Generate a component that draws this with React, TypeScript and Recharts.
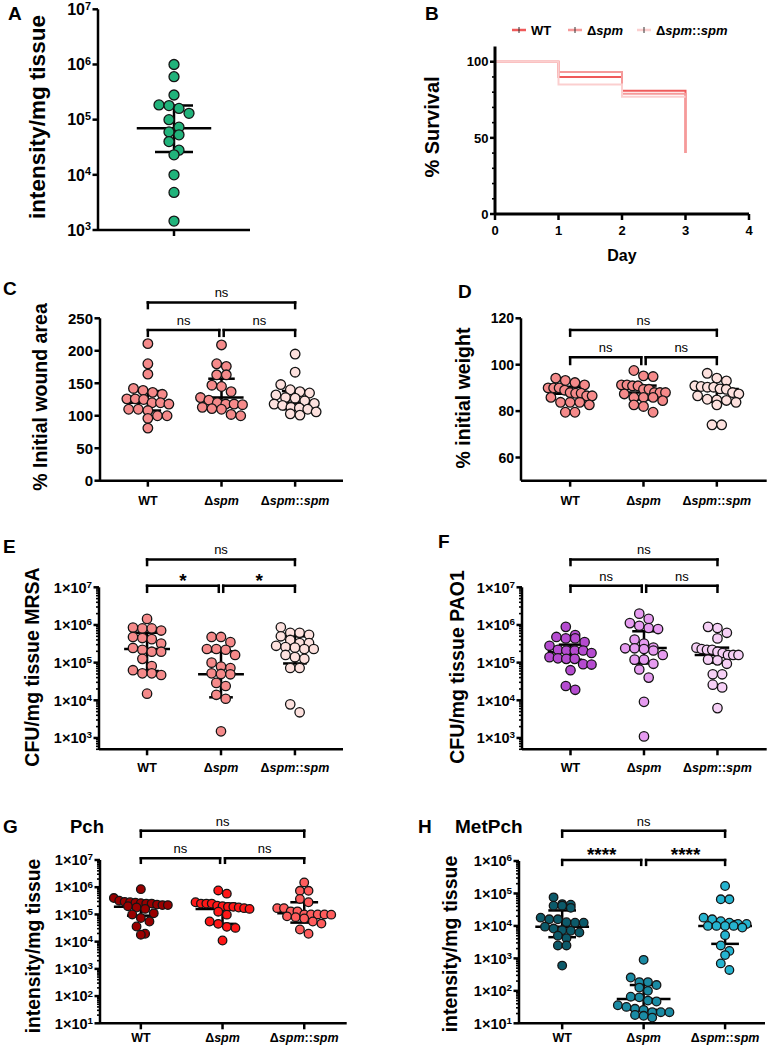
import React from "react";
import { ScatterChart, Scatter, XAxis, YAxis, ReferenceLine, LineChart, Line } from "recharts";

const FONT = "Arial, 'Liberation Sans', Helvetica, sans-serif";

// categories shared by panels C-H
const CATS = [1, 2, 3];
const CAT_LABELS = ["WT", "Δspm", "Δspm::spm"];

// A: intensity/mg tissue
const A_VALUES = [1e6, 6e5, 2.8e5, 1.85e5, 1.8e5, 1.6e5, 1.3e5, 1e5, 7.3e4, 6e4, 5.3e4, 4e4, 2.8e4, 2.3e4, 1e4, 4.8e3, 1.45e3];
const A_MED = [7e4];
const A_Q1 = [2.6e4];
const A_Q3 = [1.8e5];

// B: survival
const B_DAYS = [0, 1, 2, 3];
const B_WT = [100, 90, 81, 40];
const B_DSPM = [100, 93.3, 79, 40];
const B_COMP = [100, 85, 77, 77];

// C: % initial wound area
const C_WT = [211, 180, 164, 142, 139, 136, 133, 126, 126, 125, 120, 120, 118, 110, 110, 108, 100, 100, 96, 81];
const C_DSPM = [209, 180, 176, 163, 163, 147, 145, 137, 128, 124, 120, 118, 118, 117, 113, 111, 110, 102, 100];
const C_COMP = [195, 167, 148, 140, 137, 135, 132, 128, 127, 123, 119, 118, 116, 113, 112, 110, 106, 103, 101];
const C_MED = [120, 128, 120];
const C_Q1 = [108, 114, 110];
const C_Q3 = [138, 157, 138];
const C_SIG = ["ns", "ns", "ns"];

// D: % initial weight
const D_WT = [94.2, 93.2, 92.3, 91.3, 90, 90, 90, 89, 88, 87.7, 87.7, 86.6, 86.6, 85.9, 83.8, 83.8, 83.8, 82.7, 79.5, 79.5];
const D_DSPM = [97.5, 95.2, 94.9, 91.3, 91.3, 90.9, 90.9, 89.4, 89.4, 88, 88, 88, 87.4, 85.9, 85.9, 85.9, 84.5, 82.7, 82, 79.5];
const D_COMP = [96.3, 94.2, 93, 90.9, 90.6, 90.3, 90.3, 89.6, 89.4, 88, 87.4, 86.6, 85.1, 84.8, 84.6, 83.8, 82.7, 74.1, 74.1];
const D_MED = [87.5, 88, 89.5];
const D_Q1 = [83.5, 85, 84];
const D_Q3 = [90.5, 91, 91];
const D_SIG = ["ns", "ns", "ns"];

// E: CFU/mg tissue MRSA
const E_WT = [1.45e6, 8.5e5, 8.1e5, 8.1e5, 7.1e5, 4.8e5, 4.5e5, 4.2e5, 3.2e5, 2.45e5, 2.2e5, 1.95e5, 1.95e5, 1.26e5, 8.1e4, 6.3e4, 5.2e4, 5.2e4, 4.7e4, 1.5e4];
const E_DSPM = [4.8e5, 4.8e5, 3.5e5, 2.3e5, 2.3e5, 2.2e5, 1.6e5, 1e5, 7.9e4, 7.2e4, 5.2e4, 5e4, 4.9e4, 2.9e4, 2.4e4, 1.4e4, 1.1e4, 1.5e3];
const E_COMP = [8.7e5, 6.2e5, 6.2e5, 5.5e5, 5e5, 4e5, 3.3e5, 3.3e5, 2.8e5, 2.6e5, 2.5e5, 2.3e5, 2.3e5, 1.6e5, 1.4e5, 1.26e5, 7.2e4, 7.2e4, 7.8e3, 4.8e3];
const E_MED = [2.3e5, 4.9e4, 2.6e5];
const E_Q1 = [6e4, 1.2e4, 9.5e4];
const E_Q3 = [6.2e5, 2e5, 5e5];
const E_SIG = ["*", "*", "ns"];

// F: CFU/mg tissue PAO1
const F_WT = [8.9e5, 5.4e5, 4.8e5, 4.4e5, 4.4e5, 3.5e5, 2.8e5, 2.2e5, 2.1e5, 2.1e5, 2.1e5, 1.8e5, 1.4e5, 1.3e5, 1.26e5, 1.26e5, 9.1e4, 8.9e4, 6.3e4, 2.4e4, 1.9e4];
const F_DSPM = [2e6, 1.45e6, 1.12e6, 9.5e5, 8.3e5, 7.8e5, 4.1e5, 3.2e5, 2.5e5, 2.4e5, 2.4e5, 2.3e5, 2.1e5, 1.6e5, 1.2e5, 1.2e5, 9.3e4, 6.6e4, 4e4, 9.1e3, 1.1e3];
const F_COMP = [8.9e5, 8.3e5, 6.2e5, 4.4e5, 2.5e5, 2.3e5, 2.2e5, 2.2e5, 1.95e5, 1.8e5, 1.6e5, 1.6e5, 1.6e5, 1.2e5, 1.15e5, 9.3e4, 4.9e4, 4.9e4, 2.6e4, 2.2e4, 6.2e3];
const F_MED = [1.9e5, 2.45e5, 1.6e5];
const F_Q1 = [1.2e5, 9.5e4, 1e5];
const F_Q3 = [3e5, 6.8e5, 2.5e5];
const F_SIG = ["ns", "ns", "ns"];

// G: Pch
const G_WT = [8.5e5, 4e5, 3.2e5, 2.9e5, 2.8e5, 2.7e5, 2.6e5, 2.5e5, 2.5e5, 2.3e5, 2.2e5, 2.2e5, 2e5, 1.8e5, 1.6e5, 1.1e5, 1e5, 7.4e4, 5.5e4, 3.6e4, 1.95e4, 1.8e4];
const G_DSPM = [7.6e5, 5.8e5, 2.8e5, 2.5e5, 2.5e5, 2.5e5, 2.1e5, 2e5, 1.9e5, 1.9e5, 1.8e5, 1.7e5, 1.6e5, 1.26e5, 9.8e4, 5.5e4, 4.5e4, 3.5e4, 3.2e4, 1.1e4];
const G_COMP = [1.5e6, 7.4e5, 7.4e5, 3.7e5, 2.8e5, 1.7e5, 1.7e5, 1.3e5, 1.3e5, 1e5, 1e5, 1e5, 1e5, 9.8e4, 8.5e4, 7.9e4, 7.1e4, 5.5e4, 4.6e4, 2.8e4, 1.95e4];
const G_MED = [1.9e5, 1.6e5, 1.1e5];
const G_Q1 = [9e4, 4.5e4, 5e4];
const G_Q3 = [2.7e5, 2.5e5, 2.8e5];
const G_SIG = ["ns", "ns", "ns"];

// H: MetPch
const H_WT = [7.6e4, 4.7e4, 4.5e4, 4.2e4, 4.2e4, 3.6e4, 1.8e4, 1.6e4, 1.6e4, 1.3e4, 1.26e4, 1.26e4, 9.5e3, 8.3e3, 7.4e3, 7.1e3, 6.3e3, 5e3, 4.2e3, 2.5e3, 2.5e3, 600];
const H_DSPM = [900, 257, 186, 186, 151, 126, 100, 66, 63, 50, 47, 36, 32, 28, 26, 22, 22, 22, 18, 17, 15];
const H_COMP = [1.7e5, 6.6e4, 6.6e4, 1.8e4, 1.6e4, 1.4e4, 1.26e4, 1.15e4, 1.15e4, 1e4, 1e4, 1e4, 1e4, 8.9e3, 5.2e3, 2.5e3, 1.7e3, 1.26e3, 700, 440];
const H_MED = [9.5e3, 56, 1e4];
const H_Q1 = [4.5e3, 26, 2.8e3];
const H_Q3 = [3e4, 151, 1.4e4];
const H_SIG = ["****", "****", "ns"];

// axis ticks
const A_MAJOR = [1e3, 1e4, 1e5, 1e6, 1e7];
const EF_MAJOR = [1e3, 1e4, 1e5, 1e6, 1e7];
const G_MAJOR = [1e1, 1e2, 1e3, 1e4, 1e5, 1e6, 1e7];
const H_MAJOR = [1e1, 1e2, 1e3, 1e4, 1e5, 1e6];
const C_TICKS = [0, 50, 100, 150, 200, 250];
const D_TICKS = [60, 80, 100, 120];
const B_YTICKS = [0, 10, 20, 30, 40, 50, 60, 70, 80, 90, 100];
const B_YMAJOR = [0, 50, 100];
const B_XTICKS = [0, 1, 2, 3, 4];

function withMinors(majors: number[], low: number) {
  const out: number[] = [];
  const top = majors[majors.length - 1];
  for (let d = majors[0] / 10; d < top; d *= 10) {
    for (let k = 1; k <= 9; k++) {
      const v = Number((d * k).toPrecision(6));
      if (v >= low - 1e-9 && v <= top) out.push(v);
    }
  }
  majors.forEach((m) => { if (out.indexOf(m) < 0) out.push(m); });
  return out.sort((a, b) => a - b);
}

// row layout of a column scatter: points with close values share a row and sit side by side
function rowLayout(values: number[], cat: number, pxu: number, toPy: (v: number) => number, d: number, maxHalf: number) {
  const order = values.map((v) => ({ v, py: toPy(v) })).sort((a, b) => b.py - a.py);
  const rows: { v: number; py: number }[][] = [];
  for (const p of order) {
    const row = rows[rows.length - 1];
    if (row && row[0].py - p.py < d * 0.9) row.push(p);
    else rows.push([p]);
  }
  const out: { x: number; y: number }[] = [];
  for (const row of rows) {
    const n = row.length;
    const step = n > 1 ? Math.min(d, (2 * maxHalf) / (n - 1)) : 0;
    row.forEach((p, k) => {
      const off = (k - (n - 1) / 2) * step;
      out.push({ x: cat + off / pxu, y: p.v });
    });
  }
  return out;
}

function catLabel(s: string) {
  return s
    .split(/(spm)/)
    .filter(Boolean)
    .map((part, k) =>
      part === "spm" ? (
        <tspan key={k} fontStyle="italic">spm</tspan>
      ) : (
        <tspan key={k}>{part}</tspan>
      )
    );
}

function yTick(majors: number[], fmt: string, fs: number, majorLen: number, minorLen: number) {
  return (props: any) => {
    const { x, y, payload } = props;
    const v = payload.value;
    const isMajor = majors.some((m) => Math.abs(m - v) <= m * 1e-6 + 1e-9);
    const len = isMajor ? majorLen : minorLen;
    const exp = Math.round(Math.log10(v));
    return (
      <g>
        <line x1={x} x2={x - len} y1={y} y2={y} stroke="#000" strokeWidth={isMajor ? 2.5 : 1.6} />
        {isMajor && (
          <text x={x - majorLen - 1.5} y={y} dy="0.36em" textAnchor="end" fontSize={fs} fontWeight="bold" fontFamily={FONT} fill="#000">
            {fmt === "num" ? String(v) : fmt === "sci" ? "1×10" : "10"}
            {fmt !== "num" && (
              <tspan dy={-fs * 0.33} fontSize={fs * 0.68}>{exp}</tspan>
            )}
          </text>
        )}
      </g>
    );
  };
}

function xTick(cats: number[], labels: string[] | null, fs: number, len: number, labelDy: number) {
  return (props: any) => {
    const { x, y, payload } = props;
    const i = cats.indexOf(payload.value);
    const lab = labels ? labels[i] : null;
    return (
      <g>
        <line x1={x} x2={x} y1={y} y2={y + len} stroke="#000" strokeWidth={2.5} />
        {lab != null && (
          <text x={x} y={y + labelDy} textAnchor="middle" fontSize={fs} fontWeight="bold" fontFamily={FONT} fill="#000">
            {catLabel(lab)}
          </text>
        )}
      </g>
    );
  };
}

type Group = { values: number[]; color: string; med: number; q1: number; q3: number };
type Bracket = { x1: number; x2: number; y: number; drop: number; label: string };

type Spec = {
  box: number[];
  plot: number[];
  log: boolean;
  yDomain: number[];
  yTicks: number[];
  yMajor: number[];
  yFmt: string;
  yFs: number;
  xDomain: number[];
  cats: number[];
  catLabels: string[] | null;
  labelDy: number;
  groups: Group[];
  brackets: Bracket[];
  r: number;
  spread: number;
  medHalf: number;
  capHalf: number;
};

function DotPanel(p: Spec) {
  const [bl, bt, bw, bh] = p.box;
  const [x0, y0, x1, y1] = p.plot;
  const YW = 40;
  const XH = 30;
  const margin = { left: x0 - bl - YW, top: y0 - bt, right: bl + bw - x1, bottom: bt + bh - y1 - XH };
  const t = (v: number) => (p.log ? Math.log10(v) : v);
  const pyu = (y1 - y0) / (t(p.yDomain[1]) - t(p.yDomain[0]));
  const pxu = (x1 - x0) / (p.xDomain[1] - p.xDomain[0]);
  const groups = p.groups.map((g, i) => ({
    ...g,
    cat: p.cats[i],
    pts: rowLayout(g.values, p.cats[i], pxu, (v) => t(v) * pyu, 2 * p.r, p.spread),
  }));
  const black = { stroke: "#000", strokeWidth: 2.5, ifOverflow: "visible" as const };
  return (
    <div style={{ position: "absolute", left: bl, top: bt }}>
      <ScatterChart width={bw} height={bh} margin={margin}>
        <XAxis
          type="number"
          dataKey="x"
          domain={p.xDomain}
          allowDataOverflow
          ticks={p.cats}
          interval={0}
          height={XH}
          tickSize={0}
          tickMargin={0}
          tickLine={false}
          axisLine={{ stroke: "#000", strokeWidth: 2.5 }}
          tick={xTick(p.cats, p.catLabels, 12.5, 6, p.labelDy)}
        />
        <YAxis
          type="number"
          dataKey="y"
          scale={p.log ? "log" : "linear"}
          domain={p.yDomain}
          allowDataOverflow
          ticks={p.yTicks}
          interval={0}
          width={YW}
          tickSize={0}
          tickMargin={0}
          tickLine={false}
          axisLine={{ stroke: "#000", strokeWidth: 2.5 }}
          tick={yTick(p.yMajor, p.yFmt, p.yFs, 5.5, 3)}
        />
        {groups.map((g, i) => (
          <Scatter
            key={"s" + i}
            data={g.pts}
            isAnimationActive={false}
            shape={(sp: any) => (
              <circle cx={sp.cx} cy={sp.cy} r={p.r} fill={g.color} stroke="#151515" strokeWidth={1.3} />
            )}
          />
        ))}
        {groups.map((g, i) => (
          <React.Fragment key={"m" + i}>
            <ReferenceLine segment={[{ x: g.cat - p.medHalf, y: g.med }, { x: g.cat + p.medHalf, y: g.med }]} {...black} />
            <ReferenceLine segment={[{ x: g.cat, y: g.q1 }, { x: g.cat, y: g.q3 }]} {...black} />
            <ReferenceLine segment={[{ x: g.cat - p.capHalf, y: g.q1 }, { x: g.cat + p.capHalf, y: g.q1 }]} {...black} />
            <ReferenceLine segment={[{ x: g.cat - p.capHalf, y: g.q3 }, { x: g.cat + p.capHalf, y: g.q3 }]} {...black} />
          </React.Fragment>
        ))}
        {p.brackets.map((b, i) => {
          const star = b.label.indexOf("*") >= 0;
          return (
            <React.Fragment key={"b" + i}>
              <ReferenceLine
                segment={[{ x: b.x1, y: b.y }, { x: b.x2, y: b.y }]}
                {...black}
                strokeLinecap="square"
                label={{
                  value: b.label,
                  position: "top",
                  offset: star ? -1 : 5,
                  fontSize: star ? 19 : 13,
                  fontWeight: star ? "bold" : "normal",
                  fill: "#000",
                  fontFamily: FONT,
                }}
              />
              <ReferenceLine segment={[{ x: b.x1, y: b.y }, { x: b.x1, y: b.drop }]} {...black} strokeLinecap="square" />
              <ReferenceLine segment={[{ x: b.x2, y: b.y }, { x: b.x2, y: b.drop }]} {...black} strokeLinecap="square" />
            </React.Fragment>
          );
        })}
      </ScatterChart>
    </div>
  );
}

function makeGroups(vals: number[][], colors: string[], med: number[], q1: number[], q3: number[]): Group[] {
  return vals.map((v, i) => ({ values: v, color: colors[i], med: med[i], q1: q1[i], q3: q3[i] }));
}

function makeBrackets(sig: string[], low: number, lowDrop: number, high: number, highDrop: number): Bracket[] {
  return [
    { x1: 1, x2: 1.97, y: low, drop: lowDrop, label: sig[0] },
    { x1: 2.03, x2: 3, y: low, drop: lowDrop, label: sig[1] },
    { x1: 1, x2: 3, y: high, drop: highDrop, label: sig[2] },
  ];
}

const SALMON = ["#f58a8a", "#f58a8a", "#fde1de"];
const PURPLE = ["#b54bd0", "#e69bf0", "#f6d0f6"];
const REDS = ["#990000", "#ff1717", "#ff5c5c"];
const TEALS = ["#0c5a6a", "#1a8ba4", "#25b4d0"];

const SPECS: Spec[] = [
  {
    box: [0, 0, 385, 270], plot: [98, 9.3, 250, 230], log: true, yDomain: [1e3, 1e7],
    yTicks: A_MAJOR, yMajor: A_MAJOR, yFmt: "pow", yFs: 16, xDomain: [-1, 1], cats: [0], catLabels: null, labelDy: 0,
    groups: makeGroups([A_VALUES], ["#21b37b"], A_MED, A_Q1, A_Q3), brackets: [], r: 5, spread: 28, medHalf: 0.49, capHalf: 0.25,
  },
  {
    box: [0, 270, 385, 250], plot: [100, 318.3, 343, 480.7], log: false, yDomain: [0, 250],
    yTicks: C_TICKS, yMajor: C_TICKS, yFmt: "num", yFs: 15, xDomain: [0.35, 3.65], cats: CATS, catLabels: CAT_LABELS, labelDy: 24,
    groups: makeGroups([C_WT, C_DSPM, C_COMP], SALMON, C_MED, C_Q1, C_Q3),
    brackets: makeBrackets(C_SIG, 231.8, 223, 274.5, 265.7), r: 4.8, spread: 21, medHalf: 0.3, capHalf: 0.18,
  },
  {
    box: [385, 270, 385, 250], plot: [521, 318.3, 766.7, 480.7], log: false, yDomain: [50, 120],
    yTicks: D_TICKS, yMajor: D_TICKS, yFmt: "num", yFs: 14, xDomain: [0.33, 3.68], cats: CATS, catLabels: CAT_LABELS, labelDy: 24,
    groups: makeGroups([D_WT, D_DSPM, D_COMP], SALMON, D_MED, D_Q1, D_Q3),
    brackets: makeBrackets(D_SIG, 103.2, 100.3, 115, 112.5), r: 4.8, spread: 22, medHalf: 0.3, capHalf: 0.18,
  },
  {
    box: [0, 520, 385, 260], plot: [99, 587.3, 343, 749.3], log: true, yDomain: [500, 1e7],
    yTicks: withMinors(EF_MAJOR, 500), yMajor: EF_MAJOR, yFmt: "sci", yFs: 14.5, xDomain: [0.35, 3.65], cats: CATS, catLabels: CAT_LABELS, labelDy: 23,
    groups: makeGroups([E_WT, E_DSPM, E_COMP], SALMON, E_MED, E_Q1, E_Q3),
    brackets: makeBrackets(E_SIG, 1.1e7, 7.6e6, 5.5e7, 3.9e7), r: 4.7, spread: 21, medHalf: 0.31, capHalf: 0.16,
  },
  {
    box: [385, 520, 385, 260], plot: [522, 587.3, 766.7, 749.3], log: true, yDomain: [500, 1e7],
    yTicks: withMinors(EF_MAJOR, 500), yMajor: EF_MAJOR, yFmt: "sci", yFs: 14.5, xDomain: [0.34, 3.67], cats: CATS, catLabels: CAT_LABELS, labelDy: 23,
    groups: makeGroups([F_WT, F_DSPM, F_COMP], PURPLE, F_MED, F_Q1, F_Q3),
    brackets: makeBrackets(F_SIG, 1.1e7, 7.6e6, 5.5e7, 3.9e7), r: 4.7, spread: 21, medHalf: 0.31, capHalf: 0.16,
  },
  {
    box: [0, 780, 385, 270], plot: [100, 860, 346.7, 1023.3], log: true, yDomain: [10, 1e7],
    yTicks: withMinors(G_MAJOR, 10), yMajor: G_MAJOR, yFmt: "sci", yFs: 14.5, xDomain: [0.5, 3.52], cats: CATS, catLabels: CAT_LABELS, labelDy: 19,
    groups: makeGroups([G_WT, G_DSPM, G_COMP], REDS, G_MED, G_Q1, G_Q3),
    brackets: makeBrackets(G_SIG, 1.15e7, 7.9e6, 1.2e8, 7.2e7), r: 4.3, spread: 27, medHalf: 0.33, capHalf: 0.17,
  },
  {
    box: [385, 780, 385, 270], plot: [519, 861, 765, 1023.3], log: true, yDomain: [10, 1e6],
    yTicks: withMinors(H_MAJOR, 10), yMajor: H_MAJOR, yFmt: "sci", yFs: 14.5, xDomain: [0.47, 3.49], cats: CATS, catLabels: CAT_LABELS, labelDy: 19,
    groups: makeGroups([H_WT, H_DSPM, H_COMP], TEALS, H_MED, H_Q1, H_Q3),
    brackets: makeBrackets(H_SIG, 1.07e6, 7.6e5, 8.5e6, 5.6e6), r: 4.3, spread: 26, medHalf: 0.33, capHalf: 0.17,
  },
];

const B_SERIES = [
  { name: "WT", values: B_WT, color: "#ef5a5a" },
  { name: "Δspm", values: B_DSPM, color: "#f59a9a" },
  { name: "Δspm::spm", values: B_COMP, color: "#fbcfcf" },
];

function PanelB() {
  const bl = 385, bt = 0, bw = 385, bh = 270;
  const [x0, y0, x1, y1] = [495, 46.5, 749, 214];
  const YW = 40, XH = 30;
  const margin = { left: x0 - bl - YW, top: y0 - bt, right: bl + bw - x1, bottom: bt + bh - y1 - XH };
  return (
    <div style={{ position: "absolute", left: bl, top: bt }}>
      <LineChart width={bw} height={bh} margin={margin}>
        <XAxis
          type="number"
          dataKey="day"
          domain={[0, 4]}
          ticks={B_XTICKS}
          interval={0}
          height={XH}
          tickSize={0}
          tickMargin={0}
          tickLine={false}
          axisLine={{ stroke: "#000", strokeWidth: 3 }}
          tick={(props: any) => (
            <g>
              <line x1={props.x} x2={props.x} y1={props.y} y2={props.y + 6} stroke="#000" strokeWidth={2.5} />
              <text x={props.x} y={props.y + 21} textAnchor="middle" fontSize={13} fontWeight="bold" fontFamily={FONT} fill="#000">
                {props.payload.value}
              </text>
            </g>
          )}
        />
        <YAxis
          type="number"
          domain={[0, 110]}
          allowDataOverflow
          ticks={B_YTICKS}
          interval={0}
          width={YW}
          tickSize={0}
          tickMargin={0}
          tickLine={false}
          axisLine={{ stroke: "#000", strokeWidth: 3 }}
          tick={yTick(B_YMAJOR, "num", 13, 5, 3)}
        />
        {B_SERIES.map((s) => (
          <Line
            key={s.name}
            data={B_DAYS.map((d, i) => ({ day: d, v: s.values[i] }))}
            dataKey="v"
            type="stepAfter"
            stroke={s.color}
            strokeWidth={2}
            dot={false}
            isAnimationActive={false}
          />
        ))}
      </LineChart>
      <div style={{ position: "absolute", left: 0, top: 0 }}>
        <svg width={385} height={45}>
          {B_SERIES.map((s, i) => {
            const lx = [127, 183, 252][i];
            return (
              <g key={s.name}>
                <line x1={lx} x2={lx + 14} y1={30} y2={30} stroke={s.color} strokeWidth={2.5} />
                <line x1={lx + 7} x2={lx + 7} y1={27} y2={33} stroke="#333" strokeWidth={1} />
                <text x={lx + 19} y={35} fontSize={13} fontWeight="bold" fontFamily={FONT} fill="#000">
                  {catLabel(s.name)}
                </text>
              </g>
            );
          })}
        </svg>
      </div>
    </div>
  );
}

function Rot({ x, y, fs, children }: { x: number; y: number; fs: number; children: any }) {
  return (
    <text transform={`translate(${x},${y}) rotate(-90)`} textAnchor="middle" dominantBaseline="central" fontSize={fs} fontWeight="bold" fontFamily={FONT} fill="#000">
      {children}
    </text>
  );
}

export default function App() {
  const letter = { fontSize: 19, fontWeight: "bold" as const, fontFamily: FONT, fill: "#000" };
  return (
    <div style={{ position: "absolute", left: 0, top: 0, width: 770, height: 1050, background: "#fff" }}>
      {SPECS.map((s, i) => (
        <DotPanel key={i} {...s} />
      ))}
      <PanelB />
      <svg width={770} height={1050} style={{ position: "absolute", left: 0, top: 0, pointerEvents: "none" }}>
        <text x={8} y={20} {...letter}>A</text>
        <text x={425} y={20} {...letter}>B</text>
        <text x={3} y={295} {...letter}>C</text>
        <text x={458} y={298} {...letter}>D</text>
        <text x={3} y={553} {...letter}>E</text>
        <text x={438} y={548} {...letter}>F</text>
        <text x={3} y={833} {...letter}>G</text>
        <text x={418} y={833} {...letter}>H</text>
        <text x={70} y={833} fontSize={18.5} fontWeight="bold" fontFamily={FONT}>Pch</text>
        <text x={455} y={833} fontSize={19} fontWeight="bold" fontFamily={FONT}>MetPch</text>
        <text x={622} y={261} textAnchor="middle" fontSize={16} fontWeight="bold" fontFamily={FONT}>Day</text>
        <Rot x={37} y={117} fs={22.5}>intensity/mg tissue</Rot>
        <Rot x={432} y={127} fs={20}>% Survival</Rot>
        <Rot x={40} y={397} fs={19.5}>% Initial wound area</Rot>
        <Rot x={463} y={398} fs={19.5}>% initial weight</Rot>
        <Rot x={32} y={667} fs={19.5}>CFU/mg tissue MRSA</Rot>
        <Rot x={457} y={667} fs={19.5}>CFU/mg tissue PAO1</Rot>
        <Rot x={33} y={946} fs={19.3}>intensity/mg tissue</Rot>
        <Rot x={450} y={944} fs={19.5}>intensity/mg tissue</Rot>
      </svg>
    </div>
  );
}
